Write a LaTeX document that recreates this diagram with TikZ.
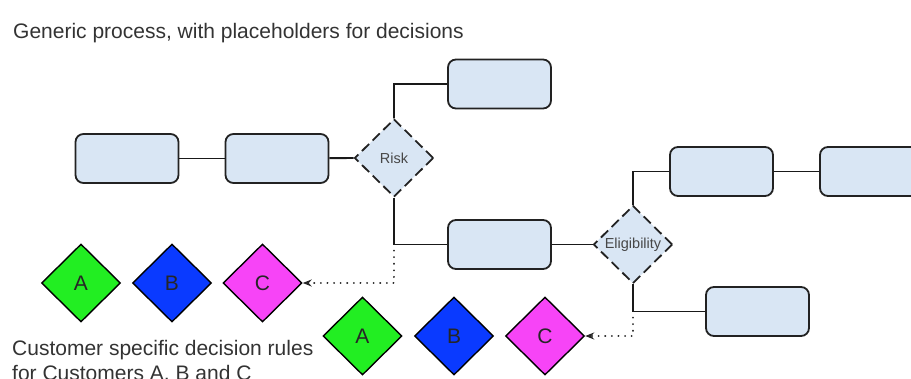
\documentclass[tikz,border=0pt]{standalone}
\usepackage{fontspec}
\setmainfont{Liberation Sans}
\usetikzlibrary{shapes.geometric,arrows.meta}
\definecolor{boxfill}{HTML}{D9E6F4}
\definecolor{boxline}{HTML}{222222}
\definecolor{cgreen}{HTML}{22EE22}
\definecolor{cblue}{HTML}{0A3AFF}
\definecolor{cmag}{HTML}{F744F7}
\definecolor{txt}{HTML}{333333}
\tikzset{
  procbox/.style={draw=boxline, fill=boxfill, line width=1.8pt, rounded corners=8pt,
    minimum width=103pt, minimum height=49pt, inner sep=0pt},
  decision/.style={diamond, draw=boxline, fill=boxfill, line width=1.8pt,
    dash pattern=on 10pt off 5pt, minimum width=79pt, minimum height=78pt, inner sep=0pt,
    font=\fontsize{14.5}{16}\selectfont, text=txt!90},
  rule/.style={diamond, draw=black, line width=1.4pt, minimum width=79pt, minimum height=78pt,
    inner sep=0pt, font=\fontsize{21}{23}\selectfont, text=black!85},
  conn/.style={line width=1.9pt, draw=black!90},
  dots/.style={line width=2pt, draw=black!85, dash pattern=on 0.1pt off 6.5pt, line cap=round,
    -{Stealth[length=9pt,width=7pt]}},
  lbl/.style={anchor=base west, inner sep=0pt, font=\fontsize{21}{25}\selectfont, text=txt}
}
\begin{document}
\begin{tikzpicture}[x=1pt,y=-1pt]
\useasboundingbox (0,0) rectangle (911,378);
\node[lbl] (title) at (13,38) {Generic process, with placeholders for decisions};
\node[procbox] (b1) at (127,158.5) {};
\node[procbox] (b2) at (277,158.5) {};
\node[decision] (risk) at (394,158) {Risk};
\node[procbox] (top) at (499.5,84) {};
\node[procbox] (mid) at (499.5,244.5) {};
\node[decision] (elig) at (633,244.5) {Eligibility};
\node[procbox] (ur) at (721.5,171.5) {};
\node[procbox] (far) at (871.5,171.5) {};
\node[procbox] (lr) at (757.5,311.5) {};
\node[rule, fill=cgreen] (a1) at (81,283) {A};
\node[rule, fill=cblue] (bb1) at (172,283) {B};
\node[rule, fill=cmag] (c1) at (262.5,283) {C};
\node[rule, fill=cgreen] (a2) at (362.5,336) {A};
\node[rule, fill=cblue] (bb2) at (454,336) {B};
\node[rule, fill=cmag] (c2) at (545,336) {C};
\node[lbl] (foot1) at (12,355) {Customer specific decision rules};
\node[lbl] (foot2) at (12,380) {for Customers A, B and C};
\coordinate (rc) at (risk.south |- mid.west);
\coordinate (ec) at (elig.south |- lr.west);
\draw[conn] (b1) -- (b2);
\draw[conn] (b2) -- (risk.west);
\draw[conn] (risk.north) |- (top.west);
\draw[conn] (risk.south) -- (rc) -- (mid.west);
\draw[conn] (mid.east) -- (elig.west);
\draw[conn] (elig.north) |- (ur.west);
\draw[conn] (ur.east) -- (far.west);
\draw[conn] (elig.south) -- (ec) -- (lr.west);
\draw[dots] ([yshift=-6pt]rc) |- (c1.east);
\draw[dots] ([yshift=-6pt]ec) |- (c2.east);
\end{tikzpicture}
\end{document}
